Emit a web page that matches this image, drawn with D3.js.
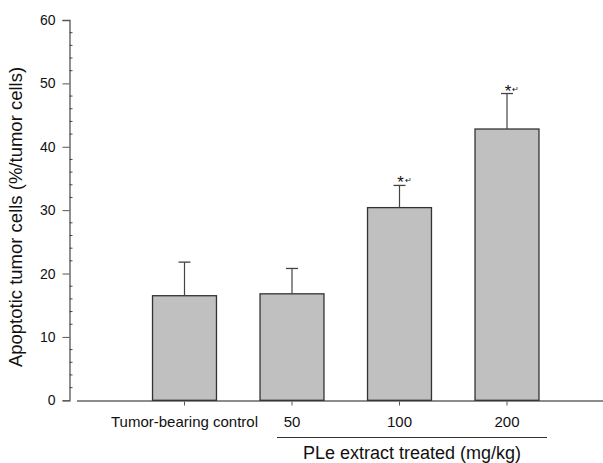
<!DOCTYPE html>
<html>
<head>
<meta charset="utf-8">
<script src="https://cdn.jsdelivr.net/npm/d3@7"></script>
<style>
  body { margin: 0; background: #fff; }
  text { font-family: "Liberation Sans", Arial, sans-serif; fill: #111; }
</style>
</head>
<body>
<div id="container"></div>
<script>
/* DATA */
const groups = ["Tumor-bearing control", "50", "100", "200"];
const means = [16.5, 16.8, 30.4, 42.8];
const errors = [5.3, 4.0, 3.5, 5.6];
const marked = [false, false, true, true];
const yTicks = [0, 10, 20, 30, 40, 50, 60];

/* CONSTANTS */
const width = 603, height = 463;

const svg = d3.select("#container").append("svg")
  .attr("width", width)
  .attr("height", height);

/* SCALES */
const yScale = d3.scaleLinear()
  .domain([0, 60])
  .range([400.3, 20]);

const xScale = d3.scaleBand()
  .domain(groups)
  .range([130.75, 560.75])
  .paddingInner(0.405)
  .paddingOuter(0.2025);

// y axis: major ticks out, minor ticks in
const yAxis = d3.axisLeft(yScale)
  .tickValues(yTicks)
  .tickSize(7)
  .tickPadding(7);

const yG = svg.append("g")
  .attr("transform", "translate(69.5,0)")
  .call(yAxis);
yG.select(".domain").attr("stroke", "#555").attr("stroke-width", 1.3);
yG.selectAll(".tick line").attr("stroke", "#555");
yG.selectAll(".tick text").style("font-size", "14px").attr("fill", "#111");

const minor = d3.range(0, 61, 2).filter(d => d % 10 !== 0);
yG.selectAll("line.minor")
  .data(minor)
  .join("line")
  .attr("class", "minor")
  .attr("x1", 0).attr("x2", 3)
  .attr("y1", d => yScale(d)).attr("y2", d => yScale(d))
  .attr("stroke", "#444");

// x axis
const xAxis = d3.axisBottom(xScale)
  .tickSize(4)
  .tickPadding(11)
  .tickSizeOuter(0);

const xG = svg.append("g")
  .attr("transform", "translate(0,401)")
  .call(xAxis);
xG.select(".domain").remove();
xG.selectAll(".tick line").attr("stroke", "#555").attr("transform", "translate(0,0.5)");
xG.selectAll(".tick text").style("font-size", "15px").attr("fill", "#111");
xG.append("line")
  .attr("x1", 77).attr("x2", 603)
  .attr("y1", 0).attr("y2", 0)
  .attr("stroke", "#666").attr("stroke-width", 1.4);

/* BARS */
svg.selectAll("rect.bar")
  .data(groups)
  .join("rect")
  .attr("class", "bar")
  .attr("x", d => xScale(d))
  .attr("y", (d, i) => yScale(means[i]))
  .attr("width", xScale.bandwidth())
  .attr("height", (d, i) => yScale(0) - yScale(means[i]))
  .attr("fill", "#c0c0c0")
  .attr("stroke", "#333")
  .attr("stroke-width", 1.3);

// error bars (upper only)
const cx = d => xScale(d) + xScale.bandwidth() / 2;
svg.selectAll("line.err")
  .data(groups)
  .join("line")
  .attr("class", "err")
  .attr("x1", cx).attr("x2", cx)
  .attr("y1", (d, i) => yScale(means[i]))
  .attr("y2", (d, i) => yScale(means[i] + errors[i]))
  .attr("stroke", "#444").attr("stroke-width", 1.2);

svg.selectAll("line.cap")
  .data(groups)
  .join("line")
  .attr("class", "cap")
  .attr("x1", d => cx(d) - 6).attr("x2", d => cx(d) + 6)
  .attr("y1", (d, i) => yScale(means[i] + errors[i]))
  .attr("y2", (d, i) => yScale(means[i] + errors[i]))
  .attr("stroke", "#444").attr("stroke-width", 1.3);

// significance marks
const sig = groups.filter((d, i) => marked[i]);
const capY = d => yScale(means[groups.indexOf(d)] + errors[groups.indexOf(d)]);
svg.selectAll("text.star")
  .data(sig)
  .join("text")
  .attr("class", "star")
  .attr("x", d => cx(d) + 1)
  .attr("y", d => capY(d) + 3)
  .attr("text-anchor", "middle")
  .style("font-size", "17px")
  .attr("fill", "#555")
  .text("*");
svg.selectAll("text.ret")
  .data(sig)
  .join("text")
  .attr("class", "ret")
  .attr("x", d => cx(d) + 5)
  .attr("y", d => capY(d) - 2)
  .style("font-size", "8px")
  .attr("fill", "#999")
  .text("\u21B5");

/* TITLES */
svg.append("text")
  .attr("transform", "translate(22,217) rotate(-90)")
  .attr("text-anchor", "middle")
  .style("font-size", "18.5px")
  .text("Apoptotic tumor cells (%/tumor cells)");

svg.append("line")
  .attr("x1", 277).attr("x2", 547)
  .attr("y1", 437.5).attr("y2", 437.5)
  .attr("stroke", "#333").attr("stroke-width", 1.1);

svg.append("text")
  .attr("x", 412)
  .attr("y", 459)
  .attr("text-anchor", "middle")
  .style("font-size", "18px")
  .text("PLe extract treated (mg/kg)");
</script>
</body>
</html>
